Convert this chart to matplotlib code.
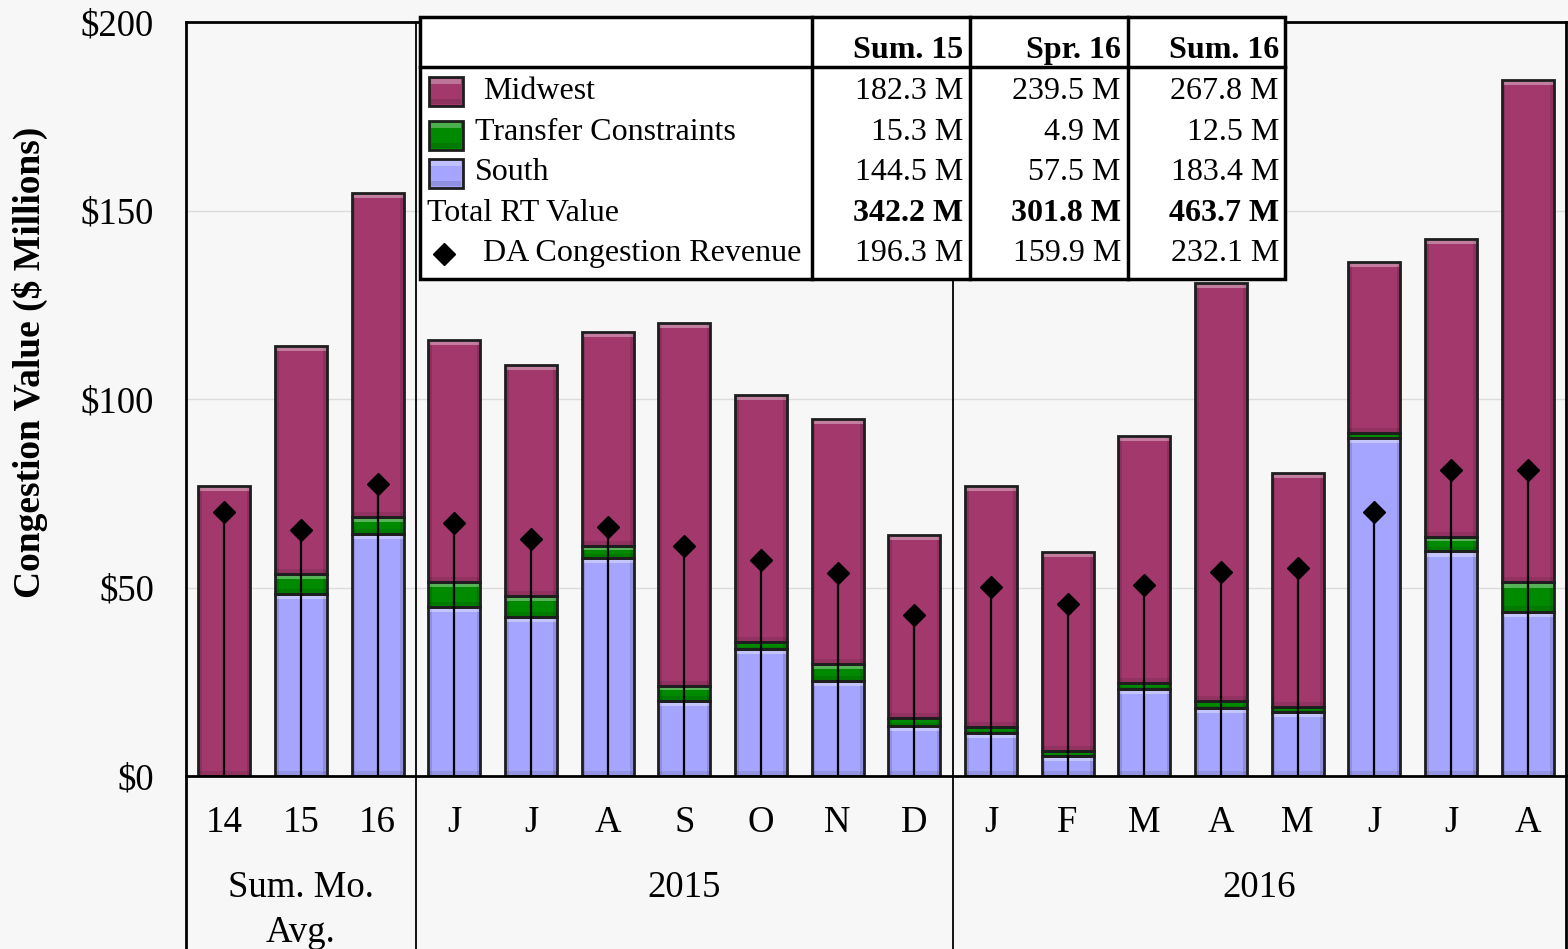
import matplotlib
matplotlib.use("Agg")
import matplotlib.pyplot as plt
from matplotlib.patches import Rectangle
from matplotlib.transforms import blended_transform_factory

plt.rcParams['font.family'] = ['Liberation Serif', 'DejaVu Serif']

# ---------------- data ----------------
categories = ["14", "15", "16", "J", "J", "A", "S", "O", "N", "D",
              "J", "F", "M", "A", "M", "J", "J", "A"]
groups = ["Sum. Mo.\nAvg.", "2015", "2016"]
group_sizes = [3, 7, 8]

south = [0.0, 48.3, 64.2, 44.8, 42.2, 57.8, 19.9, 33.7, 25.2, 13.3,
         11.4, 5.3, 23.1, 18.0, 17.0, 89.6, 59.6, 43.6]
transfer = [0.0, 5.3, 4.5, 6.7, 5.5, 3.2, 4.0, 1.8, 4.5, 2.1,
            1.6, 1.3, 1.6, 1.9, 1.3, 1.4, 3.8, 7.8]
midwest = [76.9, 60.5, 85.9, 64.1, 61.3, 56.8, 96.3, 65.6, 65.0, 48.5,
           63.9, 52.8, 65.5, 110.9, 62.1, 45.3, 79.0, 133.2]
da_revenue = [70.0, 65.3, 77.5, 67.1, 62.9, 66.0, 61.0, 57.3, 53.8, 42.7,
              50.1, 45.6, 50.7, 54.1, 55.2, 70.0, 81.2, 81.2]

yticks = [0, 50, 100, 150, 200]
ylabel = "Congestion Value ($ Millions)"

table_cols = ["Sum. 15", "Spr. 16", "Sum. 16"]
table_rows = ["Midwest", "Transfer Constraints", "South", "Total RT Value",
              "DA Congestion Revenue"]
tbl_midwest = ["182.3 M", "239.5 M", "267.8 M"]
tbl_transfer = ["15.3 M", "4.9 M", "12.5 M"]
tbl_south = ["144.5 M", "57.5 M", "183.4 M"]
tbl_total = ["342.2 M", "301.8 M", "463.7 M"]
tbl_da = ["196.3 M", "159.9 M", "232.1 M"]

# ---------------- style ----------------
C_MW = '#A3386D'
C_TR = '#008A00'
C_SO = '#A5A5FF'
EDGE = '#1e1e1e'
BG = '#F7F7F7'
FS = 26.5
TFS = 23

W, H = 1568, 949
fig = plt.figure(figsize=(W / 100, H / 100), dpi=100, facecolor=BG)

ax_l, ax_r, ax_t, ax_b = 186, 1566, 22, 776
AH = ax_b - ax_t
ax = fig.add_axes([ax_l / W, (H - ax_b) / H, (ax_r - ax_l) / W, AH / H])
ax.set_facecolor(BG)
n = len(categories)
ax.set_xlim(-0.5, n - 0.5)
ax.set_ylim(0, 200)
bw = 0.68


def bevel_bar(x, bottom, height, color):
    if height <= 0:
        return
    ax.bar(x, height, bw, bottom, color=color, lw=0, zorder=2)
    sw = bw * 0.07
    hh = min(1.4, height * 0.3)
    ax.bar(x - bw / 2 + sw / 2, height, sw, bottom, color='black', alpha=0.13, lw=0, zorder=2.1)
    ax.bar(x + bw / 2 - sw / 2, height, sw, bottom, color='black', alpha=0.13, lw=0, zorder=2.1)
    ax.bar(x, hh, bw, bottom + height - hh, color='white', alpha=0.35, lw=0, zorder=2.2)
    ax.bar(x, hh, bw, bottom, color='black', alpha=0.1, lw=0, zorder=2.2)
    ax.bar(x, height, bw, bottom, fill=False, edgecolor=EDGE, lw=2, zorder=2.5)


for i in range(n):
    bevel_bar(i, 0, south[i], C_SO)
    bevel_bar(i, south[i], transfer[i], C_TR)
    bevel_bar(i, south[i] + transfer[i], midwest[i], C_MW)

xs = list(range(n))
ax.vlines(xs, 0, da_revenue, color='black', lw=1.6, zorder=5)
ax.plot(xs, da_revenue, linestyle='none', marker='D', color='black', ms=11, zorder=6)

ax.set_yticks(yticks)
ax.set_yticklabels([f"${v}" for v in yticks], fontsize=FS)
ax.tick_params(axis='y', length=0, pad=23)
ax.set_xticks([])
ax.yaxis.grid(True, color='#DCDCDC', lw=1)
ax.set_axisbelow(True)
for s in ax.spines.values():
    s.set_color('black')
    s.set_linewidth(2)

trans = blended_transform_factory(ax.transData, ax.transAxes)
below = -(H - ax_b) / AH
for i, lab in enumerate(categories):
    ax.text(i, -47 / AH, lab, transform=trans, ha='center', va='center', fontsize=FS)

start = 0
bounds = [-0.5]
for g, sz in zip(groups, group_sizes):
    center = start + (sz - 1) / 2
    if "\n" in g:
        l1, l2 = g.split("\n")
        ax.text(center, -112 / AH, l1, transform=trans, ha='center', va='center', fontsize=FS)
        ax.text(center, -157 / AH, l2, transform=trans, ha='center', va='center', fontsize=FS)
    else:
        ax.text(center, -112 / AH, g, transform=trans, ha='center', va='center', fontsize=FS)
    start += sz
    bounds.append(start - 0.5)

for b in bounds:
    if b in (-0.5, n - 0.5):
        ax.plot([b, b], [0, below], transform=trans, color='black', lw=2, clip_on=False, zorder=1)
    else:
        ax.plot([b, b], [1, below], transform=trans, color='black', lw=1.3, clip_on=False, zorder=1)

fig.text(30 / W, 1 - 362 / H, ylabel, rotation=90, ha='center', va='center',
         fontsize=27, fontweight='bold')

# ---------------- table ----------------
tax = fig.add_axes([0, 0, 1, 1], zorder=10)
tax.set_xlim(0, W)
tax.set_ylim(H, 0)
tax.axis('off')
tax.patch.set_alpha(0)

tl, tr_, tt, tb = 420, 1285, 17, 279
tax.add_patch(Rectangle((tl, tt), tr_ - tl, tb - tt, facecolor='white', edgecolor='black', lw=2.5))
tax.plot([tl, tr_], [67, 67], color='black', lw=2.5)
for cx in (812, 970, 1128):
    tax.plot([cx, cx], [tt, tb], color='black', lw=2.5)

col_right = [963, 1121, 1279]
for cx, c in zip(col_right, table_cols):
    tax.text(cx, 50, c, ha='right', va='center', fontsize=TFS, fontweight='bold')

row_y = [91, 132, 172, 213, 253]
row_x = [483, 475, 475, 427, 483]
row_vals = [tbl_midwest, tbl_transfer, tbl_south, tbl_total, tbl_da]
for k, (lab, vals) in enumerate(zip(table_rows, row_vals)):
    tax.text(row_x[k], row_y[k], lab, ha='left', va='center', fontsize=TFS)
    for cx, v in zip(col_right, vals):
        tax.text(cx, row_y[k], v, ha='right', va='center', fontsize=TFS,
                 fontweight='bold' if k == 3 else 'normal')


def swatch(y0, y1, color):
    x0, x1 = 429, 463
    tax.add_patch(Rectangle((x0, y0), x1 - x0, y1 - y0, facecolor=color, edgecolor=EDGE, lw=2))
    tax.add_patch(Rectangle((x0 + 2, y0 + 2), x1 - x0 - 4, 5, facecolor='white', alpha=0.3, lw=0))
    tax.add_patch(Rectangle((x0 + 2, y1 - 7), x1 - x0 - 4, 5, facecolor='black', alpha=0.12, lw=0))


swatch(77, 106, C_MW)
swatch(121, 150, C_TR)
swatch(159, 188, C_SO)
tax.plot([444], [254], marker='D', color='black', ms=11, linestyle='none')

fig.savefig("out.png", dpi=100, facecolor=BG)
